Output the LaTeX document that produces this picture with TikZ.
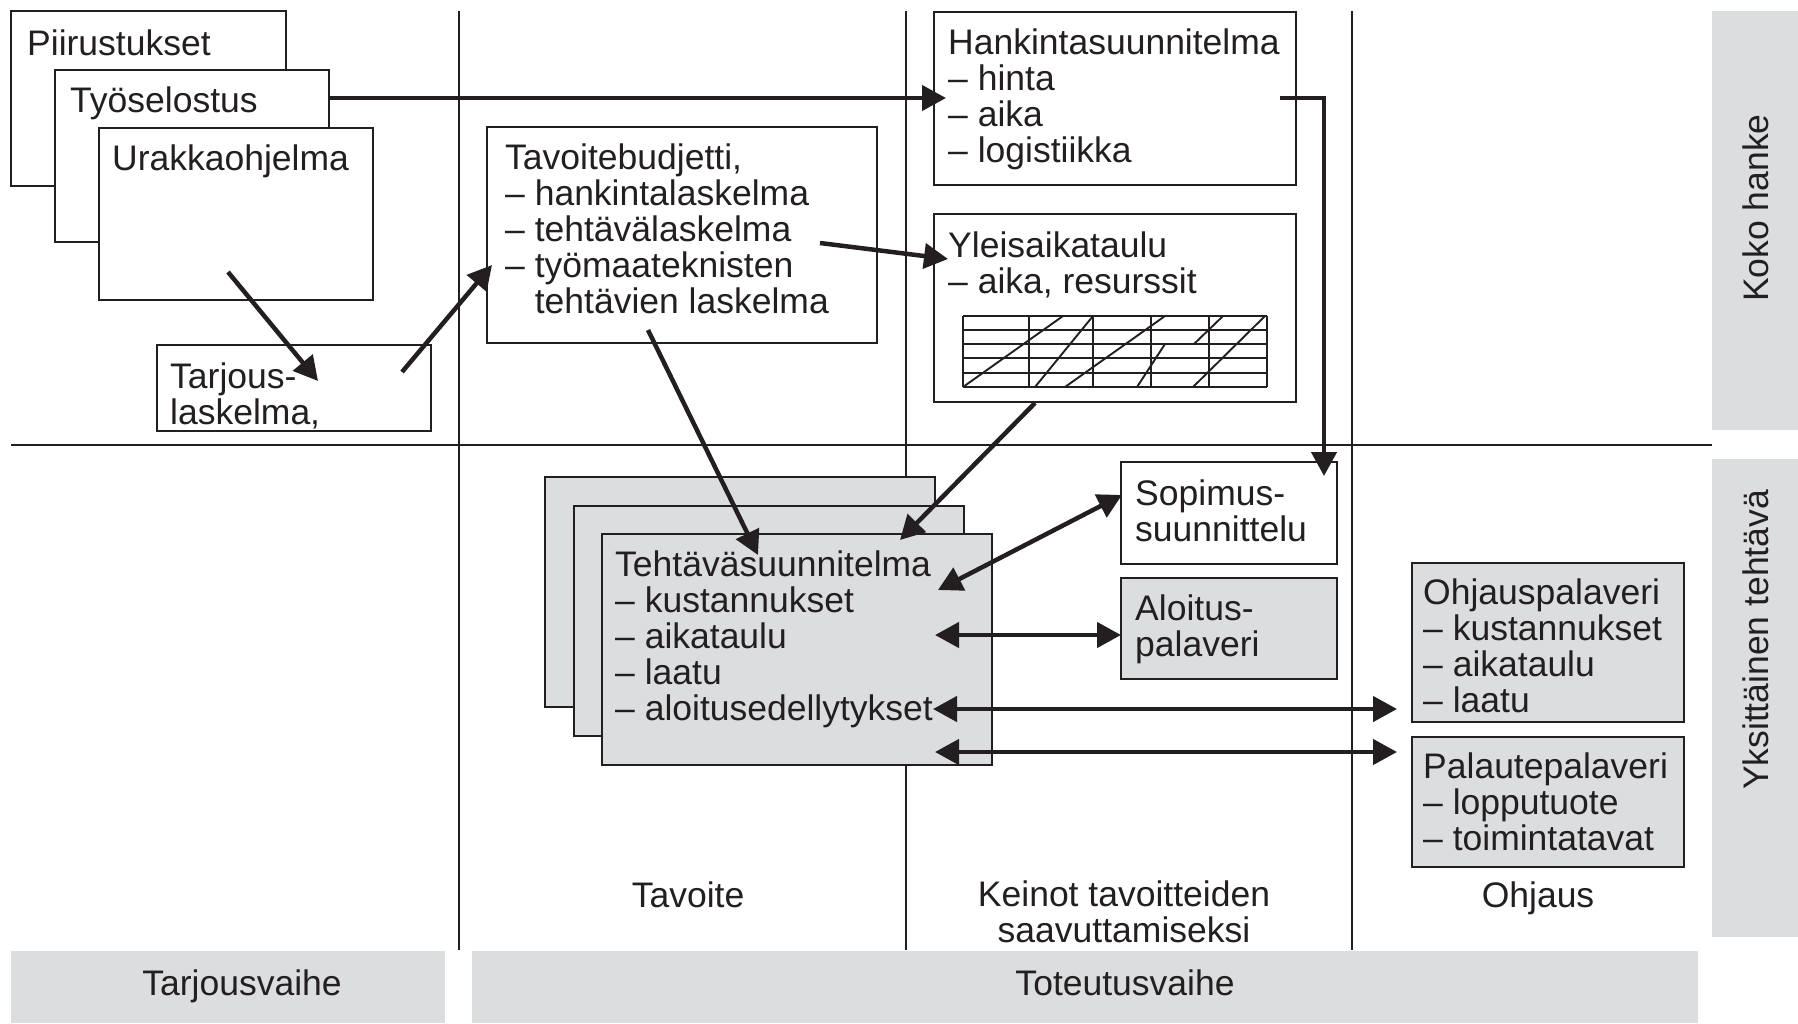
\documentclass[tikz,border=0pt]{standalone}
\usepackage{fontspec}
\setmainfont{Liberation Sans}
\usetikzlibrary{arrows.meta}
\definecolor{ink}{RGB}{35,31,32}
\definecolor{panel}{RGB}{220,221,223}
\tikzset{
  box/.style={draw=ink, line width=2.6pt, fill=white, anchor=north west, inner sep=0pt, outer sep=0pt},
  graybox/.style={box, fill=panel},
  txt/.style={anchor=base west, inner sep=0pt, align=left, text=ink, font=\fontsize{35.5}{35.8}\selectfont},
  lbl/.style={anchor=base, inner sep=0pt, align=center, text=ink, font=\fontsize{35.5}{35.8}\selectfont},
  divider/.style={draw=ink, line width=2pt},
  conn/.style={draw=ink, line width=4.5pt, >={Triangle[length=24pt,width=25pt]}},
  ganttline/.style={draw=ink, line width=1.9pt},
  bar/.style={fill=panel},
}
\begin{document}
\begin{tikzpicture}[x=1pt,y=-1pt,line join=miter]
\useasboundingbox (0,0) rectangle (1798,1023);
% side and bottom bars
\fill[bar] (1712,11) rectangle (1798,430);
\fill[bar] (1712,459) rectangle (1798,937);
\fill[bar] (11,951) rectangle (445,1023);
\fill[bar] (472,951) rectangle (1698,1023);
\node[lbl, rotate=90, anchor=center] (koko) at (1756,208) {Koko hanke};
\node[lbl, rotate=90, anchor=center] (yks) at (1756,640) {Yksittäinen tehtävä};
\node[lbl] (tarjv) at (242,995) {Tarjousvaihe};
\node[lbl] (toteutus) at (1125,995) {Toteutusvaihe};
% dividers
\draw[divider] (459,11) -- (459,950);
\draw[divider] (906,11) -- (906,950);
\draw[divider] (1352,11) -- (1352,950);
\draw[divider] (11,445) -- (1712,445);
% column labels (base = last line)
\node[lbl] (tavoite) at (688,907) {Tavoite};
\node[lbl] (keinot) at (1124,942) {Keinot tavoitteiden\\saavuttamiseksi};
\node[lbl] (ohjaus) at (1538,907) {Ohjaus};
% boxes
\node[box, minimum width=275pt, minimum height=175pt] (piir) at (11,11) {};
\node[box, minimum width=274pt, minimum height=172pt] (tyo) at (55,70) {};
\node[box, minimum width=274pt, minimum height=172pt] (urakka) at (99,128) {};
\node[box, minimum width=274pt, minimum height=86pt] (tarj) at (157,345) {};
\node[box, minimum width=390pt, minimum height=216pt] (tavb) at (487,127) {};
\node[box, minimum width=362pt, minimum height=173pt] (hank) at (934,12) {};
\node[box, minimum width=362pt, minimum height=188pt] (yleis) at (934,214) {};
\node[box, minimum width=216pt, minimum height=102pt] (sop) at (1121,462) {};
\node[graybox, minimum width=216pt, minimum height=101pt] (alo) at (1121,578) {};
\node[graybox, minimum width=272pt, minimum height=159pt] (ohj) at (1412,563) {};
\node[graybox, minimum width=272pt, minimum height=130pt] (pal) at (1412,737) {};
\node[graybox, minimum width=390pt, minimum height=230pt] (teh3) at (545,477) {};
\node[graybox, minimum width=390pt, minimum height=230pt] (teh2) at (574,506) {};
\node[graybox, minimum width=390pt, minimum height=231pt] (teh) at (602,534) {};
% gantt chart
\foreach \yy in {316,330,344,358,373,387} \draw[ganttline] (963,\yy) -- (1267,\yy);
\foreach \xx in {963,1029,1093,1151,1209,1267} \draw[ganttline] (\xx,316) -- (\xx,387);
\draw[ganttline] (963,387) -- (1063,316);
\draw[ganttline] (1035,387) -- (1093,316);
\draw[ganttline] (1065,387) -- (1165,316);
\draw[ganttline] (1137,387) -- (1165,344);
\draw[ganttline] (1194,344) -- (1223,316);
\draw[ganttline] (1193,387) -- (1265,316);
% texts (anchor base = baseline of the last line)
\node[txt] (piirT) at (27,55) {Piirustukset};
\node[txt] (tyoT) at (70,112) {Työselostus};
\node[txt] (urakkaT) at (112,170) {Urakkaohjelma};
\node[txt] (tarjT) at (170,424) {Tarjous-\\laskelma,};
\node[txt] (tavbT) at (505,313) {Tavoitebudjetti,\\– hankintalaskelma\\– tehtävälaskelma\\– työmaateknisten\\\phantom{– }tehtävien laskelma};
\node[txt] (hankT) at (948,162) {Hankintasuunnitelma\\– hinta\\– aika\\– logistiikka};
\node[txt] (yleisT) at (948,293) {Yleisaikataulu\\– aika, resurssit};
\node[txt] (tehT) at (615,720) {Tehtäväsuunnitelma\\– kustannukset\\– aikataulu\\– laatu\\– aloitusedellytykset};
\node[txt] (sopT) at (1135,541) {Sopimus-\\suunnittelu};
\node[txt] (aloT) at (1135,656) {Aloitus-\\palaveri};
\node[txt] (ohjT) at (1423,712) {Ohjauspalaveri\\– kustannukset\\– aikataulu\\– laatu};
\node[txt] (palT) at (1423,850) {Palautepalaveri\\– lopputuote\\– toimintatavat};
% connector end points
\coordinate (a1s) at (228,272); \coordinate (a1e) at (318,381);
\coordinate (a2s) at (402,372); \coordinate (a2e) at (492,265);
\coordinate (a3s) at (329,98);  \coordinate (a3e) at (946,98);
\coordinate (a4s) at (820,243); \coordinate (a4e) at (948,259);
\coordinate (a5s) at (1280,98); \coordinate (a5e) at (1324,476);
\coordinate (a6s) at (648,330); \coordinate (a6e) at (758,555);
\coordinate (a7s) at (1035,403); \coordinate (a7e) at (900,540);
\coordinate (a8s) at (938,590); \coordinate (a8e) at (1122,495);
\coordinate (a9s) at (935,635); \coordinate (a9e) at (1121,635);
\coordinate (a10s) at (933,709); \coordinate (a10e) at (1397,709);
\coordinate (a11s) at (935,752); \coordinate (a11e) at (1397,752);
% connectors
\draw[conn,->] (a1s) -- (a1e);
\draw[conn,->] (a2s) -- (a2e);
\draw[conn,->] (a3s) -- (a3e);
\draw[conn,->] (a4s) -- (a4e);
\draw[conn,->] (a5s) -| (a5e);
\draw[conn,->] (a6s) -- (a6e);
\draw[conn,->] (a7s) -- (a7e);
\draw[conn,<->] (a8s) -- (a8e);
\draw[conn,<->] (a9s) -- (a9e);
\draw[conn,<->] (a10s) -- (a10e);
\draw[conn,<->] (a11s) -- (a11e);
\end{tikzpicture}
\end{document}
